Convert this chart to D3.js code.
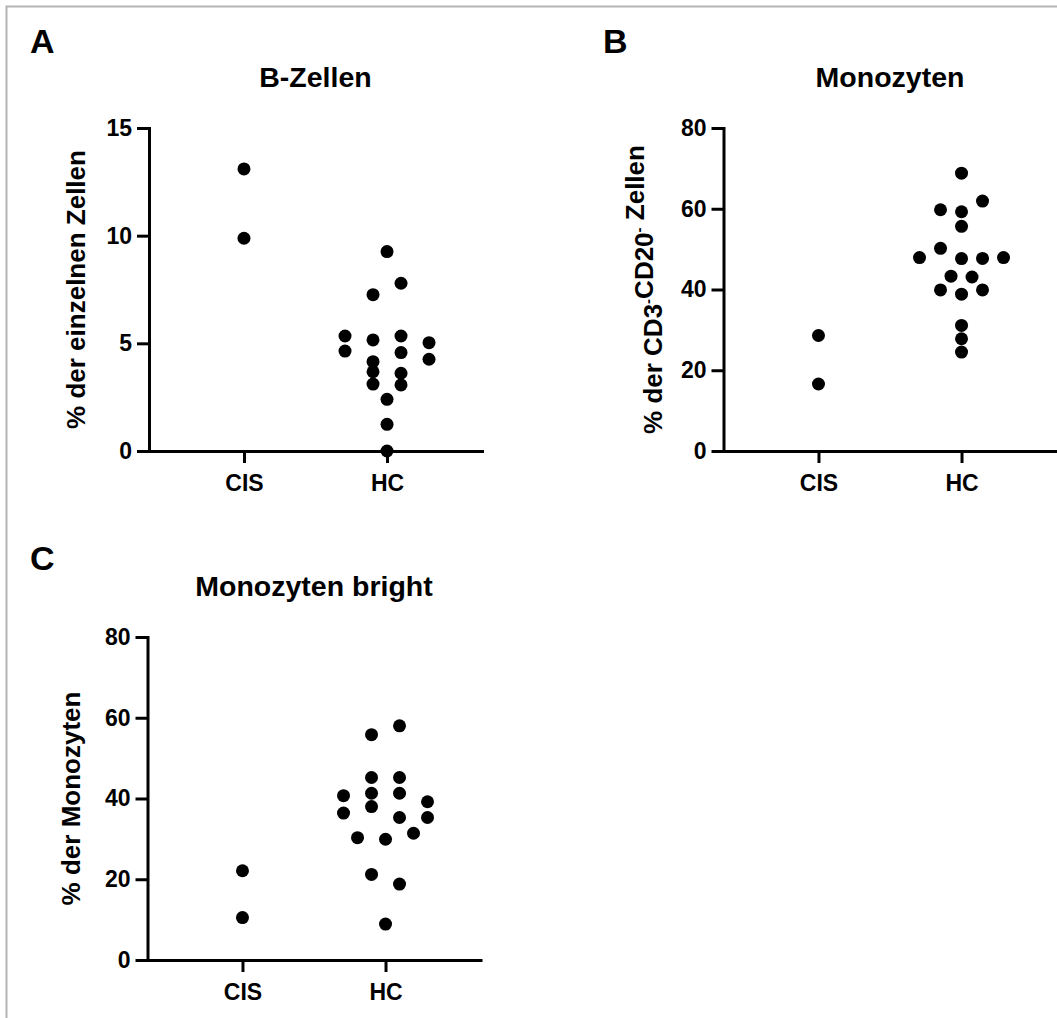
<!DOCTYPE html>
<html>
<head>
<meta charset="utf-8">
<script src="https://cdn.jsdelivr.net/npm/d3@7"></script>
<style>
  body { margin: 0; background: #fff; }
  text { font-family: "Liberation Sans", Arial, Helvetica, sans-serif; font-weight: bold; fill: #000; }
</style>
</head>
<body>
<div id="chart"></div>
<script>
// groups on the x axis
var groups = ["CIS", "HC"];

// A: B-Zellen
var bZellenCIS = [13.1, 9.88];
var bZellenHC = [9.26, 7.26, 7.79, 5.34, 5.16, 5.34, 5.03, 4.64, 4.15, 4.57, 4.26, 3.68, 3.61, 3.11, 3.07, 2.40, 1.24, 0];
var bZellenTicks = [0, 5, 10, 15];

// B: Monozyten
var monoCIS = [28.6, 16.6];
var monoHC = [68.8, 59.75, 59.26, 61.9, 55.64, 47.9, 50.2, 47.65, 47.7, 47.9, 43.3, 43.1, 39.9, 38.85, 39.9, 31.1, 27.8, 24.5];
var monoTicks = [0, 20, 40, 60, 80];

// C: Monozyten bright
var brightCIS = [22.1, 10.5];
var brightHC = [55.8, 58.0, 45.2, 45.2, 40.7, 41.3, 41.3, 39.2, 36.4, 38.0, 35.3, 35.3, 30.3, 29.9, 31.4, 21.2, 18.8, 8.9];
var brightTicks = [0, 20, 40, 60, 80];

var w = 1057;
var h = 1018;
var plotW = 333;
var plotH = 323;
var r = 6.5;
var swarmWidth = 84;
var rowGap = 12;

var svg = d3.select("#chart")
    .append("svg")
    .attr("width", w)
    .attr("height", h);

// grey frame (top and left edge only, picture is cropped)
svg.append("path")
    .attr("d", "M6.5," + h + "V6.5H" + w)
    .attr("fill", "none")
    .attr("stroke", "#b4b4b4")
    .attr("stroke-width", 2);

// group points into rows of similar value, highest first
function swarmRows(values, yScale) {
    var order = values.map(function(v, i) { return i; })
        .sort(function(a, b) { return values[b] - values[a] || a - b; });
    var rows = [];
    var cur = null;
    order.forEach(function(i) {
        if (cur && yScale(values[i]) - yScale(values[cur[0]]) <= rowGap) {
            cur.push(i);
        } else {
            cur = [i];
            rows.push(cur);
        }
    });
    return rows;
}

function drawPanel(p) {
    var g = svg.append("g")
        .attr("transform", "translate(" + p.left + "," + p.top + ")");

    var xScale = d3.scalePoint()
        .domain(groups)
        .range([0, plotW])
        .padding(0.664);

    var yScale = d3.scaleLinear()
        .domain([0, p.max])
        .range([plotH, 0]);

    var yAxis = d3.axisLeft(yScale)
        .tickValues(p.ticks)
        .tickSize(12)
        .tickSizeOuter(0)
        .tickPadding(5);

    var xAxis = d3.axisBottom(xScale)
        .tickSize(12)
        .tickSizeOuter(0)
        .tickPadding(12);

    var ya = g.append("g").call(yAxis);
    var xa = g.append("g")
        .attr("transform", "translate(0," + plotH + ")")
        .call(xAxis);

    [ya, xa].forEach(function(a) {
        a.selectAll("path, line").attr("stroke", "#000").attr("stroke-width", 3);
        a.select(".domain").attr("stroke-linecap", "square");
    });
    ya.selectAll("text").attr("font-size", 23).attr("fill", "#000");
    xa.selectAll("text").attr("font-size", 23).attr("fill", "#000");

    // title and panel letter
    g.append("text")
        .attr("x", plotW / 2)
        .attr("y", -41)
        .attr("text-anchor", "middle")
        .attr("font-size", 28.5)
        .text(p.title);

    g.append("text")
        .attr("x", p.letterX - p.left)
        .attr("y", p.letterY - p.top)
        .attr("font-size", 34)
        .text(p.letter);

    // y label
    var yl = g.append("text")
        .attr("transform", "translate(" + p.labelX + "," + (plotH / 2) + ") rotate(-90)")
        .attr("text-anchor", "middle")
        .attr("font-size", 26);
    p.label.forEach(function(part) {
        if (part.sup) {
            yl.append("tspan").attr("dy", -9).attr("font-size", 15).text(part.t);
            yl.append("tspan").attr("dy", 9).text("");
        } else {
            yl.append("tspan").text(part.t);
        }
    });

    // dots
    var series = [{ group: "CIS", values: p.cis }, { group: "HC", values: p.hc }];
    var allRows = series.map(function(s) { return swarmRows(s.values, yScale); });
    var maxRow = d3.max(allRows, function(rows) { return d3.max(rows, function(row) { return row.length; }); });
    var step = maxRow > 1 ? swarmWidth / (maxRow - 1) : 0;

    var dots = [];
    series.forEach(function(s, si) {
        allRows[si].forEach(function(row) {
            var sorted = row.slice().sort(d3.ascending);
            sorted.forEach(function(idx, k) {
                dots.push({
                    group: s.group,
                    value: s.values[idx],
                    off: (k - (sorted.length - 1) / 2) * step
                });
            });
        });
    });

    g.selectAll("circle")
        .data(dots)
        .enter()
        .append("circle")
        .attr("cx", function(d) { return xScale(d.group) + d.off; })
        .attr("cy", function(d) { return yScale(d.value); })
        .attr("r", r)
        .attr("fill", "#000");
}

drawPanel({
    letter: "A", title: "B-Zellen",
    label: [{ t: "% der einzelnen Zellen" }],
    cis: bZellenCIS, hc: bZellenHC, max: 15, ticks: bZellenTicks,
    left: 149, top: 128, letterX: 30, letterY: 53, labelX: -64
});

drawPanel({
    letter: "B", title: "Monozyten",
    label: [{ t: "% der CD3" }, { t: "-", sup: true }, { t: "CD20" }, { t: "-", sup: true }, { t: " Zellen" }],
    cis: monoCIS, hc: monoHC, max: 80, ticks: monoTicks,
    left: 723.5, top: 128, letterX: 603, letterY: 53, labelX: -62
});

drawPanel({
    letter: "C", title: "Monozyten bright",
    label: [{ t: "% der Monozyten" }],
    cis: brightCIS, hc: brightHC, max: 80, ticks: brightTicks,
    left: 147.5, top: 637, letterX: 30, letterY: 570, labelX: -68
});
</script>
</body>
</html>
